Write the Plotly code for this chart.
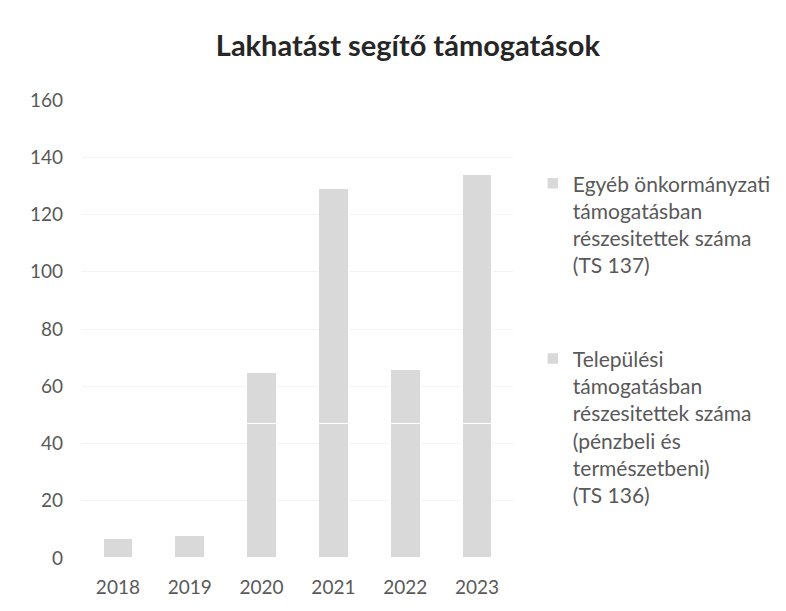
import plotly.graph_objects as go

years = ["2018", "2019", "2020", "2021", "2022", "2023"]
telepulesi = [7, 8, 47, 47, 47, 47]
egyeb = [0, 0, 18, 82, 19, 87]

name_136 = "Települési<br>támogatásban<br>részesitettek száma<br>(pénzbeli és<br>természetbeni)<br>(TS 136)"
name_137 = "Egyéb önkormányzati<br>támogatásban<br>részesitettek száma<br>(TS 137)"

bar_color = "#d9d9d9"
text_color = "#595959"

fig = go.Figure()
fig.add_trace(go.Bar(x=years, y=telepulesi, name=name_136, legendgroup="a", legendrank=2,
                     marker=dict(color=bar_color, line=dict(color="white", width=1.5))))
fig.add_trace(go.Bar(x=years, y=egyeb, name=name_137, legendgroup="b", legendrank=1,
                     marker=dict(color=bar_color, line=dict(color="white", width=1.5))))

# the page adds an 8px body margin, so the figure is drawn 8px smaller
fig.update_layout(
    width=778, height=603,
    barmode="stack",
    bargap=0.58,
    plot_bgcolor="white",
    paper_bgcolor="white",
    font=dict(family="Lato", size=19, color=text_color),
    title=dict(text="<b>Lakhatást segítő támogatások</b>", xref="container", x=0.514, xanchor="center",
               yref="container", y=0.938, yanchor="middle",
               font=dict(family="Lato", size=29, color="#262626")),
    margin=dict(l=74, r=273, t=92, b=53, autoexpand=False),
    legend=dict(xref="paper", x=1.046, yref="paper", y=0.862, yanchor="top", valign="top",
                traceorder="grouped", tracegroupgap=63,
                font=dict(size=21, color=text_color)),
    xaxis=dict(showline=False, ticks="", tickangle=0, ticklabelstandoff=16, tickfont=dict(size=19)),
    yaxis=dict(range=[0, 160], dtick=20, showgrid=True, gridcolor="#f3f3f3",
               zeroline=False, ticklabelstandoff=18, tickfont=dict(size=19)),
)

fig.write_html("out.html")
